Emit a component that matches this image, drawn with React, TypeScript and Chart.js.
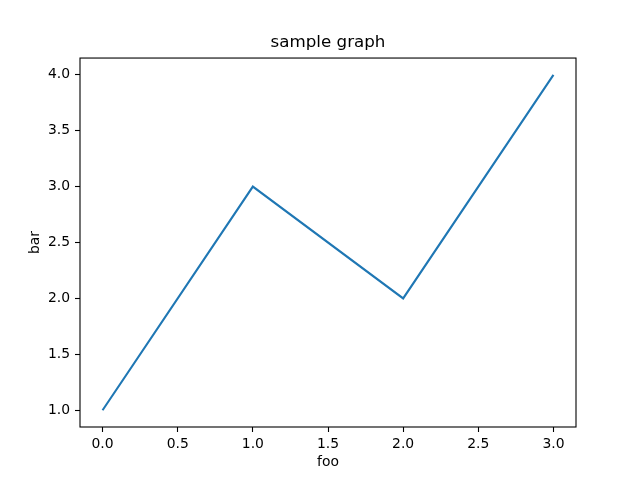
import React, { useEffect, useRef } from "react";
import { Chart, registerables } from "chart.js";

Chart.register(...registerables);

const xValues = [0, 1, 2, 3];
const yValues = [1, 3, 2, 4];
const xTicks = [0, 0.5, 1, 1.5, 2, 2.5, 3];
const yTicks = [1, 1.5, 2, 2.5, 3, 3.5, 4];
const titleText = "sample graph";
const xLabel = "foo";
const yLabel = "bar";

const FONT = "'DejaVu Sans', sans-serif";

export default function App() {
  const ref = useRef<HTMLCanvasElement | null>(null);
  useEffect(() => {
    if (!ref.current) return;
    const frame = {
      id: "frame",
      afterDatasetsDraw(chart: any) {
        const { ctx, chartArea } = chart;
        ctx.save();
        ctx.strokeStyle = "#000";
        ctx.lineWidth = 1.1;
        ctx.strokeRect(chartArea.left, chartArea.top, chartArea.right - chartArea.left, chartArea.bottom - chartArea.top);
        ctx.restore();
      },
    };
    const chart = new Chart(ref.current, {
      type: "line",
      data: {
        datasets: [
          {
            data: xValues.map((x, i) => ({ x, y: yValues[i] })),
            borderColor: "#1f77b4",
            borderWidth: 2.1,
            pointRadius: 0,
            tension: 0,
            fill: false,
          },
        ],
      },
      options: {
        responsive: false,
        animation: false,
        layout: { padding: { left: 0, right: 64, top: 0, bottom: 0 } },
        plugins: {
          legend: { display: false },
          tooltip: { enabled: false },
          title: {
            display: true,
            fullSize: false,
            text: titleText,
            color: "#000",
            font: { family: FONT, size: 16.7, weight: "normal", lineHeight: 1.2 },
            padding: { top: 33, bottom: 5 },
          },
        },
        scales: {
          x: {
            type: "linear",
            min: -0.15,
            max: 3.15,
            afterBuildTicks(scale: any) {
              scale.ticks = xTicks.map((v) => ({ value: v }));
            },
            afterFit(scale: any) {
              scale.height = 53;
            },
            grid: { drawOnChartArea: false, drawTicks: true, tickLength: 5, tickColor: "#000", tickWidth: 1.1 },
            border: { display: false },
            ticks: {
              color: "#000",
              padding: 4,
              maxRotation: 0,
              font: { family: FONT, size: 13.9 },
              callback: (v: any) => Number(v).toFixed(1),
            },
            title: {
              display: true,
              text: xLabel,
              color: "#000",
              font: { family: FONT, size: 13.9, lineHeight: 1.2 },
              padding: { top: 0, bottom: 9 },
            },
          },
          y: {
            type: "linear",
            min: 0.85,
            max: 4.15,
            afterBuildTicks(scale: any) {
              scale.ticks = yTicks.map((v) => ({ value: v }));
            },
            afterFit(scale: any) {
              scale.width = 80;
            },
            grid: { drawOnChartArea: false, drawTicks: true, tickLength: 5, tickColor: "#000", tickWidth: 1.1 },
            border: { display: false },
            ticks: {
              color: "#000",
              padding: 5,
              font: { family: FONT, size: 13.9 },
              callback: (v: any) => Number(v).toFixed(1),
            },
            title: {
              display: true,
              text: yLabel,
              color: "#000",
              font: { family: FONT, size: 13.9, lineHeight: 1.2 },
              padding: { top: 27, bottom: 0 },
            },
          },
        },
      },
      plugins: [frame],
    });
    return () => chart.destroy();
  }, []);
  return (
    <div style={{ position: "absolute", left: 0, top: 0, width: 640, height: 480, background: "#fff" }}>
      <canvas ref={ref} width={640} height={480} style={{ display: "block" }} />
    </div>
  );
}
